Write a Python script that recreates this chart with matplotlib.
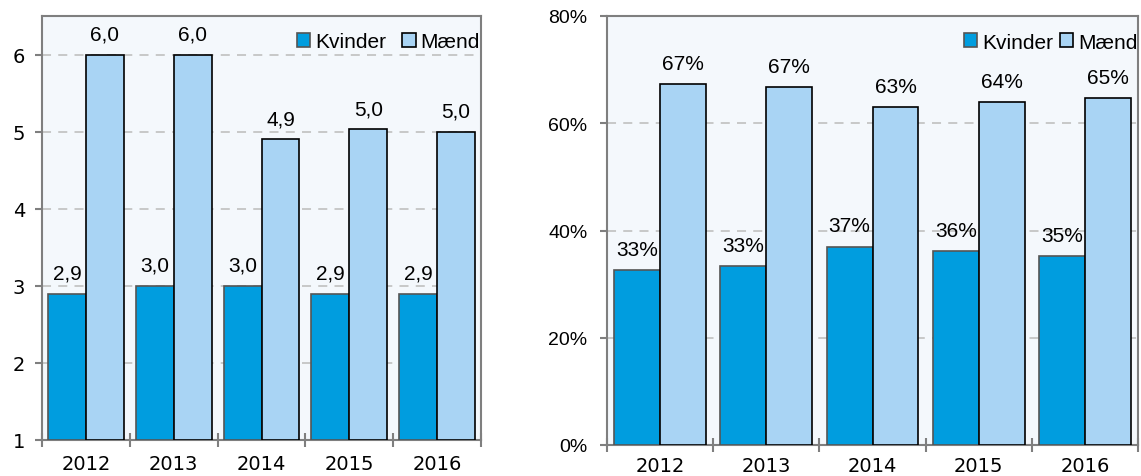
import matplotlib
matplotlib.use("Agg")
import matplotlib.pyplot as plt
from matplotlib.patches import Patch
import numpy as np

# data
years = ["2012", "2013", "2014", "2015", "2016"]
kvinder_antal = [2.9, 3.0, 3.0, 2.9, 2.9]
maend_antal = [6.0, 6.0, 4.9, 5.03, 5.0]
kvinder_andel = [32.7, 33.3, 37.0, 36.1, 35.3]
maend_andel = [67.3, 66.7, 63.0, 63.9, 64.7]

c_kv = "#009ddf"
c_ma = "#a9d4f4"
c_bg = "#f4f8fc"
c_spine = "#7f7f7f"
c_grid = "#c4c4c4"
lab_font = "Liberation Sans"
tick_font = "DejaVu Sans"

fig = plt.figure(figsize=(11.41, 4.77), dpi=100)
ax1 = fig.add_axes([42 / 1141, 36 / 477, 439 / 1141, 424 / 477])
ax2 = fig.add_axes([607 / 1141, 31 / 477, 531 / 1141, 429 / 477])


def style_axes(ax, yfont, ypad):
    ax.set_facecolor(c_bg)
    for s in ax.spines.values():
        s.set_color(c_spine)
        s.set_linewidth(1.5)
    ax.set_axisbelow(True)
    ax.yaxis.grid(True, color=c_grid, linestyle=(0, (5, 4)), linewidth=1.3)
    ax.set_xlim(-0.5, 4.5)
    ax.set_xticks(np.arange(5))
    ax.set_xticklabels(years)
    ax.set_xticks(np.arange(-0.5, 5, 1), minor=True)
    ax.tick_params(axis="x", which="major", length=0, pad=10,
                   labelsize=14, labelfontfamily=tick_font)
    ax.tick_params(axis="x", which="minor", length=10, direction="inout",
                   color=c_spine, width=1.5)
    ax.tick_params(axis="y", length=5, direction="out", color=c_spine,
                   width=1.5, pad=ypad, labelsize=14, labelfontfamily=yfont)


def draw_bars(ax, kv, ma, fmt, bottom):
    x = np.arange(len(years))
    w = 0.432
    ax.bar(x - w / 2, np.array(kv) - bottom, w, bottom=bottom, color=c_kv,
           edgecolor="#555555", linewidth=1.2, zorder=3)
    ax.bar(x + w / 2, np.array(ma) - bottom, w, bottom=bottom, color=c_ma,
           edgecolor="black", linewidth=1.2, zorder=3)
    for xi, v in list(zip(x - w / 2, kv)) + list(zip(x + w / 2, ma)):
        ax.annotate(fmt(v), (xi, v), xytext=(0, 8), textcoords="offset points",
                    ha="center", va="bottom", fontsize=15, fontfamily=lab_font)


# venstre: antal
ax1.set_ylim(1, 6.5)
ax1.set_yticks([1, 2, 3, 4, 5, 6])
style_axes(ax1, tick_font, 7)
draw_bars(ax1, kvinder_antal, maend_antal,
          lambda v: f"{v:.1f}".replace(".", ","), 1)

# højre: andel
ax2.set_ylim(0, 80)
ax2.set_yticks([0, 20, 40, 60, 80])
ax2.set_yticklabels([f"{v}%" for v in [0, 20, 40, 60, 80]])
style_axes(ax2, lab_font, 9)
ax2.tick_params(axis="x", which="major", pad=8)
draw_bars(ax2, kvinder_andel, maend_andel, lambda v: f"{v:.0f}%", 0)

handles = [Patch(facecolor=c_kv, edgecolor="#555555", linewidth=1.2),
           Patch(facecolor=c_ma, edgecolor="black", linewidth=1.2)]
ax1.legend(handles, ["Kvinder", "Mænd"], ncol=2, frameon=False,
           loc="center right", bbox_to_anchor=(0.998, 0.939), borderpad=0,
           borderaxespad=0, handlelength=0.65, handleheight=0.65,
           handletextpad=0.25, columnspacing=0.75,
           prop={"family": lab_font, "size": 15})
ax2.legend(handles, ["Kvinder", "Mænd"], ncol=2, frameon=False,
           loc="center right", bbox_to_anchor=(1.0, 0.939), borderpad=0,
           borderaxespad=0, handlelength=0.65, handleheight=0.65,
           handletextpad=0.25, columnspacing=0.3,
           prop={"family": lab_font, "size": 15})

fig.savefig("out.png", dpi=100)
